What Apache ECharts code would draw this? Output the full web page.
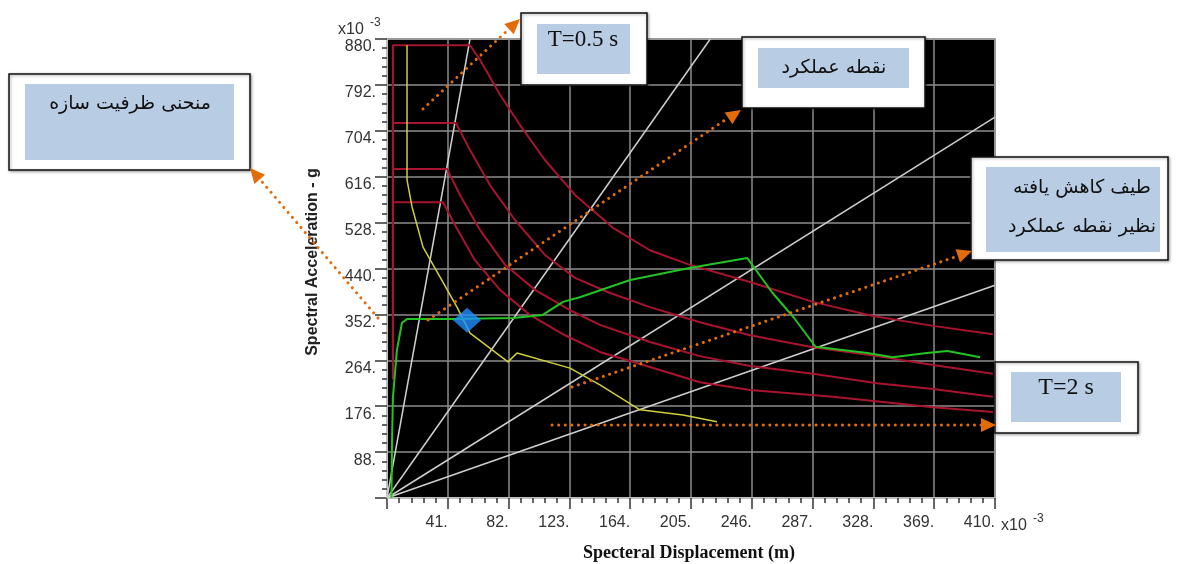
<!DOCTYPE html>
<html><head><meta charset="utf-8">
<script src="https://cdn.jsdelivr.net/npm/echarts/dist/echarts.min.js"></script>
<style>html,body{margin:0;padding:0;background:#fff}#c{width:1181px;height:564px}</style>
</head><body><div id="c"></div>
<script>
// axis scales (x10^-3)
const xMax = 410, xStep = 41;
const yMax = 880, yStep = 88;

// demand spectra (red)
const spectrum1 = [[4,347],[4,868],[56,868],[62.7,840],[76.2,773],[89.7,715],[106.5,648],[126.8,581],[152.4,518],[177.3,475],[204.3,447],[244.8,414],[287.2,376],[327.7,349],[368.2,330],[408.6,314]];
const spectrum2 = [[4,288],[4,719],[46.5,719],[56,667],[69.4,600],[86.3,533],[106.5,466],[126.8,422],[150.4,393],[177.3,366],[211,337],[244.8,312],[287.2,289],[330.4,272],[368.2,255],[408.6,238]];
const spectrum3 = [[4,253],[4,631],[40.5,631],[49.2,581],[62.7,514],[79.6,447],[99.8,399],[123.4,360],[143.6,332],[177.3,299],[211,272],[244.8,253],[287.2,238],[330.4,220],[368.2,209],[408.6,194]];
const spectrum4 = [[4,227],[4,567],[37.8,567],[45.9,523],[59.3,456],[76.2,399],[96.4,351],[120,312],[143.6,280],[177.3,251],[211,222],[244.8,207],[300.7,194],[368.2,174],[408.6,165]];

// capacity curve (green)
const capacity = [[3,0],[3.4,111],[4,193],[6.7,284],[10.1,336],[13.5,343],[44.5,343],[85,345],[105,351],[118.7,376],[130,385],[164,418],[204,441],[243,460],[260,393],[274,347],[289,290],[324,278],[341,270],[364,278],[378,282],[400,270]];

// reduced spectrum at performance point (yellow)
const reduced = [[13.5,868],[13.5,610],[16.9,558],[24.3,481],[35.7,424],[47.2,366],[56,316],[81.6,261],[87.7,278],[123.4,249],[143.6,217],[170.6,169],[199.6,159],[222.5,146]];

// constant-period lines (grey)
const periodT05 = [[0,0],[56,880]];
const periodT10 = [[0,0],[218,880]];
const periodT15 = [[0,0],[410,730]];
const periodT20 = [[0,0],[410,408]];

// performance point
const perfPoint = [[54,341]];

const chart = echarts.init(document.getElementById('c'));
const redStyle = {color:'#a8142e', width:2};
function lineSeries(data, style, z){
  return {type:'line', data:data, symbol:'none', lineStyle:style, itemStyle:{color:style.color}, z:z, animation:false, silent:true};
}

const ORANGE = '#e36c0a';
function dotted(x1,y1,x2,y2){
  return {type:'line', shape:{x1:x1,y1:y1,x2:x2,y2:y2}, style:{stroke:ORANGE, lineWidth:3, lineDash:[0.1,6.5], lineCap:'round'}, z:120};
}
function arrowHead(xt,yt,xf,yf){
  const dx = xt-xf, dy = yt-yf, L = Math.sqrt(dx*dx+dy*dy);
  const ux = dx/L, uy = dy/L, px = -uy, py = ux;
  const len = 15, w = 7;
  const bx = xt-ux*len, by = yt-uy*len;
  return {type:'polygon', shape:{points:[[xt,yt],[bx+px*w,by+py*w],[bx-px*w,by-py*w]]}, style:{fill:ORANGE}, z:121};
}
function box(x,y,w,h,ix,iy,iw,ih){
  return [
    {type:'rect', shape:{x:x,y:y,width:w,height:h}, style:{fill:'#fff', stroke:'#111', lineWidth:1.5, shadowBlur:3, shadowColor:'rgba(0,0,0,0.35)', shadowOffsetX:1, shadowOffsetY:1}, z:110},
    {type:'rect', shape:{x:ix,y:iy,width:iw,height:ih}, style:{fill:'#b8cce4'}, z:111}
  ];
}
function txt(t,x,y,font,size){
  return {type:'text', x:x, y:y, style:{text:t, fill:'#111', font:size+'px '+font, textAlign:'center', textVerticalAlign:'middle'}, z:112};
}
const FA = '"DejaVu Sans", "Noto Sans", sans-serif';
const SERIF = '"Liberation Serif", "DejaVu Serif", serif';

const graphics = [].concat(
  box(9,74,241,96, 25,84,209,76),
  [txt('منحنی ظرفیت سازه',130,104,FA,19)],
  box(521,13,126,72, 537,24,93,50),
  [txt('T=0.5 s',583,40,SERIF,23)],
  box(742,37,183,71, 758,48,151,40),
  [txt('نقطه عملکرد',834,68,FA,19)],
  box(971,157,197,103, 986,167,174,85),
  [txt('طیف کاهش یافته',1082,188,FA,19), txt('نظیر نقطه عملکرد',1082,227,FA,19)],
  box(995,362,143,71, 1011,372,110,50),
  [txt('T=2 s',1066,388,SERIF,24)],
  [dotted(378,318,258,177), arrowHead(250,168,378,318)],
  [dotted(423,109,510,28), arrowHead(520,19,423,109)],
  [dotted(428,320,728,118), arrowHead(741,110,428,320)],
  [dotted(572,387,958,256), arrowHead(972,251,572,387)],
  [dotted(552,425,982,425), arrowHead(996,425,552,425)],
  [
    {type:'text', x:338, y:30, style:{text:'x10', fill:'#333', font:'16px "Liberation Sans", Arial, sans-serif', textAlign:'left', textVerticalAlign:'middle'}, z:50},
    {type:'text', x:370, y:23, style:{text:'-3', fill:'#333', font:'12px "Liberation Sans", Arial, sans-serif', textAlign:'left', textVerticalAlign:'middle'}, z:50},
    {type:'text', x:1001, y:526, style:{text:'x10', fill:'#333', font:'16px "Liberation Sans", Arial, sans-serif', textAlign:'left', textVerticalAlign:'middle'}, z:50},
    {type:'text', x:1033, y:519, style:{text:'-3', fill:'#333', font:'12px "Liberation Sans", Arial, sans-serif', textAlign:'left', textVerticalAlign:'middle'}, z:50},
    {type:'text', x:313, y:262, rotation:Math.PI/2, style:{text:'Spectral Acceleration - g', fill:'#222', font:'bold 16px "Liberation Sans", Arial, sans-serif', textAlign:'center', textVerticalAlign:'middle'}, z:50},
    {type:'text', x:689, y:553, style:{text:'Specteral Displacement (m)', fill:'#111', font:'bold 18px "Liberation Serif", "Times New Roman", serif', textAlign:'center', textVerticalAlign:'middle'}, z:50}
  ]
);

const axisLabelBase = {color:'#333', fontSize:16, fontFamily:'"Liberation Sans", Arial, sans-serif'};
chart.setOption({
  animation:false,
  backgroundColor:'#fff',
  grid:{left:387, top:39, width:608, height:459, show:true, backgroundColor:'#000', borderColor:'#bdbdbd', borderWidth:2},
  xAxis:{type:'value', min:0, max:xMax, interval:xStep,
    axisLine:{show:true, lineStyle:{color:'#bdbdbd', width:2}},
    axisTick:{show:true, length:11, lineStyle:{color:'#333', width:1.5}},
    minorTick:{show:true, splitNumber:5, length:5, lineStyle:{color:'#333', width:1.5}},
    splitLine:{show:true, lineStyle:{color:'#8c8c8c', width:1.5}},
    axisLabel:Object.assign({margin:17, align:'right', formatter:v=> v===0 ? '' : v+'.'}, axisLabelBase)
  },
  yAxis:{type:'value', min:0, max:yMax, interval:yStep,
    axisLine:{show:true, lineStyle:{color:'#bdbdbd', width:2}},
    axisTick:{show:true, length:12, lineStyle:{color:'#333', width:1.5}},
    minorTick:{show:true, splitNumber:5, length:5, lineStyle:{color:'#333', width:1.5}},
    splitLine:{show:true, lineStyle:{color:'#8c8c8c', width:1.5}},
    axisLabel:Object.assign({margin:11, verticalAlign:'top', formatter:v=> v===0 ? '' : v+'.'}, axisLabelBase)
  },
  series:[
    lineSeries(periodT05, {color:'#cfcfcf', width:1.5}, 2),
    lineSeries(periodT10, {color:'#cfcfcf', width:1.5}, 2),
    lineSeries(periodT15, {color:'#cfcfcf', width:1.5}, 2),
    lineSeries(periodT20, {color:'#cfcfcf', width:1.5}, 2),
    lineSeries(spectrum1, redStyle, 3),
    lineSeries(spectrum2, redStyle, 3),
    lineSeries(spectrum3, redStyle, 3),
    lineSeries(spectrum4, redStyle, 3),
    lineSeries(reduced, {color:'#cfcf3a', width:1.5}, 4),
    lineSeries(capacity, {color:'#22c322', width:2}, 5),
    {type:'scatter', data:perfPoint, symbol:'diamond', symbolSize:[28,25], itemStyle:{color:'#1e8fff'}, z:6, silent:true}
  ],
  graphic:graphics
});
</script></body></html>
